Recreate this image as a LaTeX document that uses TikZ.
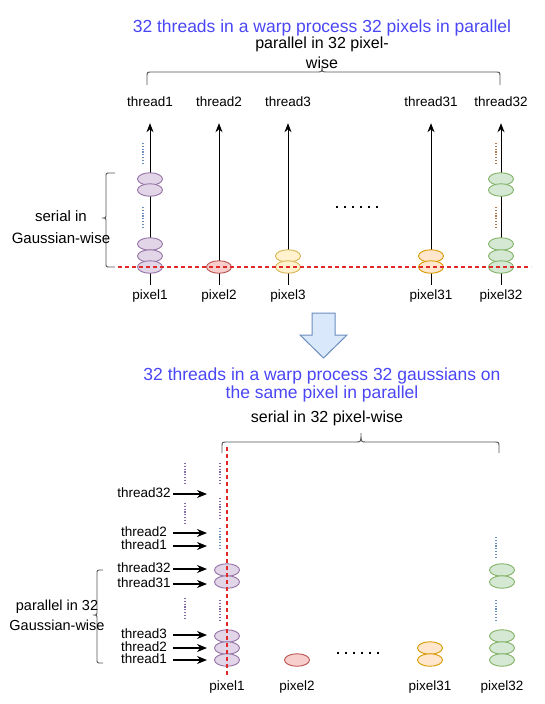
\documentclass[tikz,border=0pt]{standalone}
\usepackage{fontspec}
\setmainfont{Liberation Sans}
\usetikzlibrary{arrows.meta, positioning, shapes.geometric, calc}
\definecolor{tlblue}{HTML}{4A46F5}
\definecolor{brgray}{HTML}{555555}
\definecolor{cutred}{HTML}{E02A2A}
\definecolor{purpleline}{HTML}{9673A6}
\definecolor{purplefill}{HTML}{E1D5E7}
\definecolor{redline}{HTML}{B85450}
\definecolor{redfill}{HTML}{F8CECC}
\definecolor{yellowline}{HTML}{D6B656}
\definecolor{yellowfill}{HTML}{FFF2CC}
\definecolor{orangeline}{HTML}{D79B00}
\definecolor{orangefill}{HTML}{FFE6CC}
\definecolor{greenline}{HTML}{82B366}
\definecolor{greenfill}{HTML}{D5E8D4}
\definecolor{dotblue}{HTML}{6C8EBF}
\definecolor{dotbrown}{HTML}{B07A50}
\definecolor{dotmix}{HTML}{8068A0}
\definecolor{bigblue}{HTML}{DAE8FC}

\begin{document}
\begin{tikzpicture}[x=1pt, y=-1pt,
  gauss/.style={ellipse, draw=#1line, fill=#1fill, line width=0.9pt, minimum width=25pt, minimum height=12.5pt, inner sep=0pt},
  lbl/.style={font=\fontsize{13.5}{15}\selectfont, inner sep=0pt, text height=8.5pt, text depth=2.5pt},
  tlbl/.style={lbl, text width=58pt, align=center},
  arr/.style={-{Stealth[length=9pt, width=7pt]}, line width=1pt},
  harr/.style={-{Stealth[length=10pt, width=8pt]}, line width=1.2pt},
  cut/.style={draw=cutred, line width=1.3pt, dash pattern=on 4pt off 3pt},
  vdots/.style={draw=#1, line width=1.4pt, dash pattern=on 1.2pt off 1.6pt},
  bigdots/.style={line width=2.2pt, dash pattern=on 2.2pt off 5.8pt},
  brace/.style={draw=brgray, line width=0.9pt},
  title/.style={text=tlblue, font=\fontsize{17.5}{18}\selectfont, align=center, inner sep=0pt},
  note/.style={font=\fontsize{16}{20}\selectfont, align=center, inner sep=0pt},
]
  \useasboundingbox (0,0) rectangle (545,704);

  % upper part: one thread per pixel
  \node[title] (ttop) at (322,28) {32 threads in a warp process 32 pixels in parallel};
  \node[note] (ptop) at (322,53) {parallel in 32 pixel-\\wise};
  \draw[brace] (147,85) -- (147,77) .. controls (147,72) .. (152,72) -- (317,72) .. controls (322,72) .. (322,66)
    .. controls (322,72) .. (327,72) -- (495,72) .. controls (500,72) .. (500,77) -- (500,85);

  \node[lbl] (th1) at (150,103) {thread1};
  \node[lbl] (th2) at (219,103) {thread2};
  \node[lbl] (th3) at (288,103) {thread3};
  \node[lbl] (th31) at (431,103) {thread31};
  \node[lbl] (th32) at (501,103) {thread32};
  \node[lbl] (px1) at (150,296) {pixel1};
  \node[lbl] (px2) at (219,296) {pixel2};
  \node[lbl] (px3) at (288,296) {pixel3};
  \node[lbl] (px31) at (431,296) {pixel31};
  \node[lbl] (px32) at (501,296) {pixel32};

  \coordinate (b1) at (150,285);
  \coordinate (b2) at (219,285);
  \coordinate (b3) at (288,285);
  \coordinate (b31) at (431,285);
  \coordinate (b32) at (501,285);
  \draw[arr, shorten >=14.5pt] (b1) -- (th1);
  \draw[arr, shorten >=14.5pt] (b2) -- (th2);
  \draw[arr, shorten >=14.5pt] (b3) -- (th3);
  \draw[arr, shorten >=14.5pt] (b31) -- (th31);
  \draw[arr, shorten >=14.5pt] (b32) -- (th32);

  \draw[vdots=dotblue] (143,143) -- (143,163);
  \draw[vdots=dotblue] (143,207) -- (143,228);
  \draw[vdots=dotbrown] (496,143) -- (496,163);
  \draw[vdots=dotbrown] (496,207) -- (496,228);

  \node[gauss=purple] (ga1) at (150,179) {};
  \node[gauss=purple] (ga2) at (150,190) {};
  \node[gauss=purple] (ga3) at (150,244) {};
  \node[gauss=purple] (ga4) at (150,256) {};
  \node[gauss=purple] (ga5) at (150,267) {};
  \node[gauss=red] (gb1) at (219,267) {};
  \node[gauss=yellow] (gc1) at (288,256) {};
  \node[gauss=yellow] (gc2) at (288,267) {};
  \node[gauss=orange] (gd1) at (431,256) {};
  \node[gauss=orange] (gd2) at (431,267) {};
  \node[gauss=green] (ge1) at (501,179) {};
  \node[gauss=green] (ge2) at (501,190) {};
  \node[gauss=green] (ge3) at (501,244) {};
  \node[gauss=green] (ge4) at (501,256) {};
  \node[gauss=green] (ge5) at (501,267) {};

  \draw[bigdots] (336,207) -- (382,207);

  \coordinate (cl) at (118,267);
  \coordinate (cr) at (531,267);
  \draw[cut] (cl) -- (cr);

  \draw[brace] (115,173) -- (110,173) .. controls (106,173) .. (106,177) -- (106,214) .. controls (106,218) .. (102,218)
    .. controls (106,218) .. (106,222) -- (106,263) .. controls (106,267) .. (110,267) -- (115,267);
  \node[note, font=\fontsize{15}{22}\selectfont] (sgw) at (61,227) {serial in\\Gaussian-wise};

  % block arrow
  \draw[draw=dotblue, fill=bigblue, line width=1pt, line join=miter] (312,313) -- (335,313) -- (335,335) -- (347,335)
    -- (323.5,358) -- (300,335) -- (312,335) -- cycle;

  % lower part: one thread per gaussian
  \node[title] (tbot) at (322,385) {32 threads in a warp process 32 gaussians on\\the same pixel in parallel};
  \node[note] (sbot) at (327,418) {serial in 32 pixel-wise};
  \draw[brace] (222,453) -- (222,447) .. controls (222,442) .. (227,442) -- (356,442) .. controls (361,442) .. (361,433)
    .. controls (361,442) .. (366,442) -- (494,442) .. controls (499,442) .. (499,447) -- (499,453);

  \draw[vdots=dotmix] (185,463) -- (185,485);
  \draw[vdots=dotmix] (185,503) -- (185,525);
  \draw[vdots=dotmix] (185,598) -- (185,620);
  \draw[vdots=dotmix] (220,463) -- (220,485);
  \draw[vdots=dotmix] (220,498) -- (220,520);
  \draw[vdots=dotblue] (220,528) -- (220,548);
  \draw[vdots=dotmix] (220,600) -- (220,622);
  \draw[vdots=dotblue] (496,537) -- (496,557);
  \draw[vdots=dotblue] (496,600) -- (496,620);

  \node[gauss=purple] (ha1) at (227,570) {};
  \node[gauss=purple] (ha2) at (227,582) {};
  \node[gauss=purple] (ha3) at (227,636) {};
  \node[gauss=purple] (ha4) at (227,648) {};
  \node[gauss=purple] (ha5) at (227,660) {};
  \node[gauss=red] (hb1) at (297,660) {};
  \node[gauss=orange] (hd1) at (430,648) {};
  \node[gauss=orange] (hd2) at (430,660) {};
  \node[gauss=green] (he1) at (502,570) {};
  \node[gauss=green] (he2) at (502,582) {};
  \node[gauss=green] (he3) at (502,636) {};
  \node[gauss=green] (he4) at (502,648) {};
  \node[gauss=green] (he5) at (502,660) {};

  \draw[bigdots] (337,653) -- (383,653);

  \coordinate (vt) at (227,447);
  \coordinate (vb) at (227,677);
  \draw[cut] (vt) -- (vb);

  \node[lbl] (qx1) at (227,687) {pixel1};
  \node[lbl] (qx2) at (297,687) {pixel2};
  \node[lbl] (qx31) at (430,687) {pixel31};
  \node[lbl] (qx32) at (502,687) {pixel32};

  \node[tlbl] (tl1) at (144,494) {thread32};
  \node[tlbl] (tl2) at (144,533) {thread2};
  \node[tlbl] (tl3) at (144,546) {thread1};
  \node[tlbl] (tl4) at (144,569) {thread32};
  \node[tlbl] (tl5) at (144,584) {thread31};
  \node[tlbl] (tl6) at (144,635) {thread3};
  \node[tlbl] (tl7) at (144,648) {thread2};
  \node[tlbl] (tl8) at (144,660) {thread1};
  \coordinate (ae1) at (207,494);
  \coordinate (ae2) at (207,533);
  \coordinate (ae3) at (207,546);
  \coordinate (ae4) at (207,569);
  \coordinate (ae5) at (207,584);
  \coordinate (ae6) at (207,635);
  \coordinate (ae7) at (207,648);
  \coordinate (ae8) at (207,660);
  \draw[harr] (tl1) -- (ae1);
  \draw[harr] (tl2) -- (ae2);
  \draw[harr] (tl3) -- (ae3);
  \draw[harr] (tl4) -- (ae4);
  \draw[harr] (tl5) -- (ae5);
  \draw[harr] (tl6) -- (ae6);
  \draw[harr] (tl7) -- (ae7);
  \draw[harr] (tl8) -- (ae8);

  \draw[brace] (103,570) -- (101,570) .. controls (97,570) .. (97,574) -- (97,611) .. controls (97,615) .. (93,615)
    .. controls (97,615) .. (97,619) -- (97,659) .. controls (97,663) .. (101,663) -- (103,663);
  \node[note, font=\fontsize{14.5}{20}\selectfont] (pgw) at (57,615) {parallel in 32\\Gaussian-wise};
\end{tikzpicture}
\end{document}
